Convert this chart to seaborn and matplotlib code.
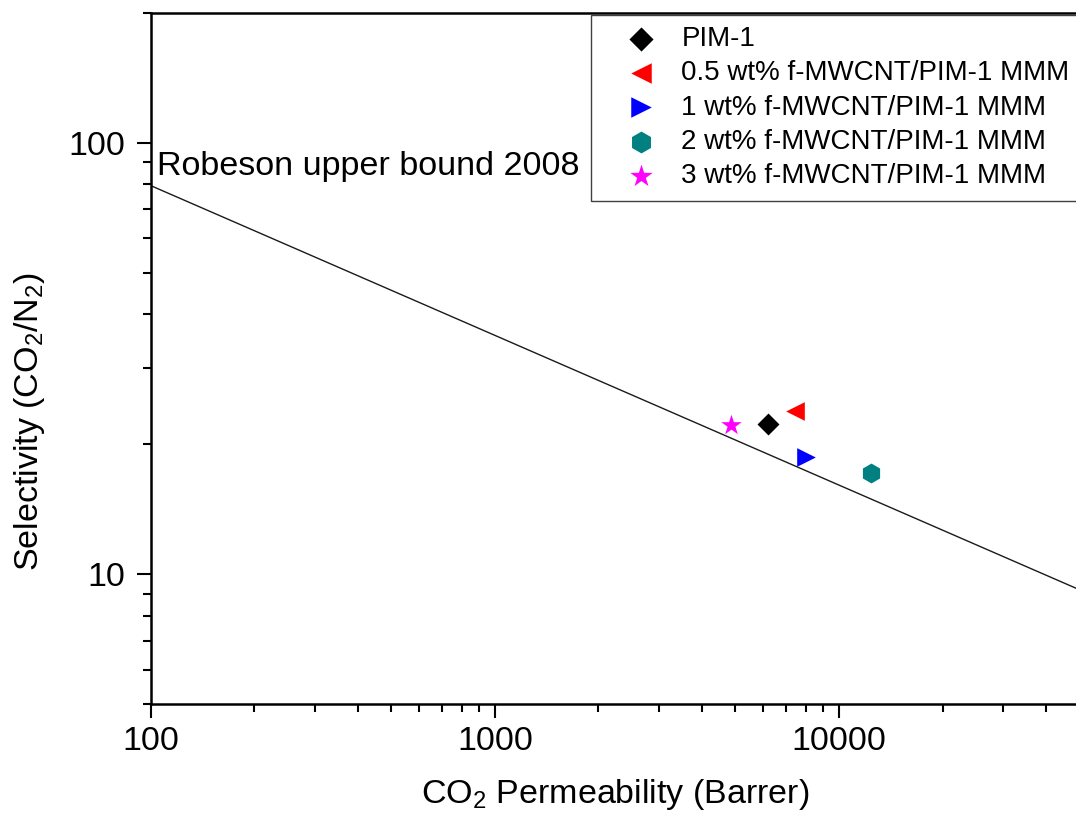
import numpy as np
import pandas as pd
import matplotlib
matplotlib.use("Agg")
import matplotlib.pyplot as plt
import seaborn as sns
from matplotlib.ticker import FixedLocator, NullFormatter, FuncFormatter

# ---------------- data ----------------
series_names = [
    "PIM-1",
    "0.5 wt% f-MWCNT/PIM-1 MMM",
    "1 wt% f-MWCNT/PIM-1 MMM",
    "2 wt% f-MWCNT/PIM-1 MMM",
    "3 wt% f-MWCNT/PIM-1 MMM",
]
co2_permeability = [6220, 7460, 8000, 12360, 4840]
co2_n2_selectivity = [22.3, 23.9, 18.7, 17.2, 22.2]

robeson_permeability = [100, 50000]
robeson_selectivity = [79.5, 9.2]
robeson_label = "Robeson upper bound 2008"

x_major_ticks = [100, 1000, 10000]
y_major_ticks = [10, 100]

# ---------------- styles ----------------
colors = ["#000000", "#ff0000", "#0000ff", "#008080", "#ff00ff"]
markers = ["D", "<", ">", "h", "*"]
marker_sizes = [125, 180, 180, 205, 240]

sns.set_style("ticks")
plt.rcParams["font.family"] = ["Liberation Sans", "DejaVu Sans"]
plt.rcParams["mathtext.fontset"] = "custom"
plt.rcParams["mathtext.rm"] = "Liberation Sans"
plt.rcParams["mathtext.it"] = "Liberation Sans:italic"
plt.rcParams["mathtext.bf"] = "Liberation Sans:bold"
plt.rcParams["text.color"] = "black"
plt.rcParams["axes.labelcolor"] = "black"
plt.rcParams["xtick.color"] = "black"
plt.rcParams["ytick.color"] = "black"

fig = plt.figure(figsize=(10.76, 8.32), dpi=100)
fig.patch.set_facecolor("white")
ax = fig.add_axes([0.1401, 0.1538, 0.8632, 0.8309])
ax.set_xscale("log")
ax.set_yscale("log")

sns.lineplot(x=robeson_permeability, y=robeson_selectivity, ax=ax,
             color="#1a1a1a", linewidth=1.0, zorder=2)

for name, xv, yv, c, m, s in zip(series_names, co2_permeability, co2_n2_selectivity,
                                 colors, markers, marker_sizes):
    df = pd.DataFrame({"perm": [xv], "sel": [yv]})
    sns.scatterplot(data=df, x="perm", y="sel", ax=ax, marker=m, color=c, s=s,
                    linewidth=0, label=name, zorder=3, legend=False)

ax.text(104, 84.1, robeson_label, fontsize=24.6, va="baseline", ha="left",
        color="black")

ax.set_xlim(100, 50000)
ax.set_ylim(5, 200)

ax.xaxis.set_major_locator(FixedLocator(x_major_ticks))
ax.yaxis.set_major_locator(FixedLocator(y_major_ticks))
x_minor = [m * 10 ** e for e in range(2, 5) for m in range(2, 10)]
y_minor = [m * 10 ** e for e in range(0, 3) for m in range(2, 10)]
ax.xaxis.set_minor_locator(FixedLocator(x_minor))
ax.yaxis.set_minor_locator(FixedLocator(y_minor))
fmt = FuncFormatter(lambda v, p: "%g" % v)
ax.xaxis.set_major_formatter(fmt)
ax.yaxis.set_major_formatter(fmt)
ax.xaxis.set_minor_formatter(NullFormatter())
ax.yaxis.set_minor_formatter(NullFormatter())

ax.tick_params(which="major", length=10, width=1.5, direction="out",
               labelsize=24.5, colors="black")
ax.tick_params(axis="y", which="major", pad=8)
ax.tick_params(axis="x", which="major", pad=6)
ax.tick_params(which="minor", length=5.5, width=1.5, direction="out")
ax.tick_params(top=False, right=False, which="both")

for sp in ax.spines.values():
    sp.set_linewidth(1.8)
    sp.set_color("black")

ax.set_xlabel("CO$_2$ Permeability (Barrer)", fontsize=24.5)
ax.set_ylabel("Selectivity (CO$_2$/N$_2$)", fontsize=24.5)
ax.xaxis.set_label_coords(0.5, -0.1056)
ax.yaxis.set_label_coords(-0.1117, 0.408)

leg = ax.legend(loc="upper left", bbox_to_anchor=(591 / 1076, 1 - 15 / 832),
                bbox_transform=fig.transFigure, fontsize=20, frameon=True,
                fancybox=False, borderpad=0.4, labelspacing=0.30,
                handlelength=2.8, handletextpad=0.05, borderaxespad=0,
                scatterpoints=1, markerscale=1.1)
leg.get_frame().set_edgecolor("#404040")
leg.get_frame().set_linewidth(1.0)
leg.get_frame().set_alpha(1)
for t in leg.get_texts():
    t.set_color("black")

fig.savefig("out.png", dpi=100, facecolor="white")
